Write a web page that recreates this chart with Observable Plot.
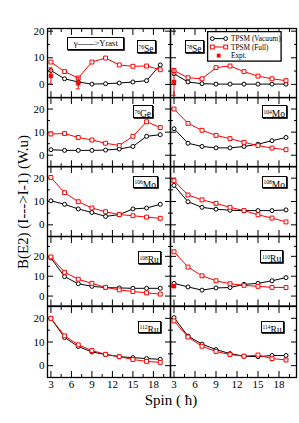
<!DOCTYPE html>
<html><head><meta charset="utf-8">
<script src="https://cdn.jsdelivr.net/npm/d3@7"></script>
<script src="https://cdn.jsdelivr.net/npm/@observablehq/plot@0.6"></script>
<style>
body{margin:0;background:#fff;}
#fig{position:relative;width:299px;height:423px;background:#fff;overflow:hidden;font-family:"Liberation Serif","DejaVu Serif",serif;color:#000}
.nuc{position:absolute;border:1.1px solid #000;background:#fff;box-sizing:border-box;white-space:nowrap;box-shadow:0.8px 0.8px 0 #000}
.nuc .m{font-size:5.5px;position:relative;top:-3.5px}
.nuc .e{font-size:9.5px}
</style></head><body><div id="fig"></div>
<script>
// ---- data ----
const spins = [3, 5, 7, 9, 11, 13, 15, 17, 19];
const xMajor = [3, 6, 9, 12, 15, 18];
const xMinor = [4.5, 7.5, 10.5, 13.5, 16.5, 19.5];

const vac_76Se  = [5.2, 2.1, 0.9, 0.1, 0.25, 0.5, 0.9, 1.4, 7.3];
const full_76Se = [8.4, 4.8, 2.4, 8.4, 9.9, 7.3, 6.8, 6.9, 5.5];
const vac_78Se  = [4.0, 0.9, 0.25, 0.1, 0.1, 0.1, 0.1, 0.1, 0.1];
const full_78Se = [5.2, 2.5, 2.1, 6.3, 6.9, 4.8, 3.1, 2.1, 1.4];
const vac_76Ge  = [2.4, 2.1, 2.1, 2.1, 2.25, 2.7, 3.8, 8.2, 8.9];
const full_76Ge = [9.2, 9.4, 7.7, 6.6, 5.2, 4.2, 8.2, 14.5, 12.0];
const vac_104Mo  = [11.5, 5.2, 3.8, 3.2, 3.2, 3.8, 4.8, 6.3, 7.7];
const full_104Mo = [20.0, 13.8, 10.8, 8.6, 7.2, 5.6, 4.2, 3.1, 2.4];
const vac_106Mo  = [10.3, 8.8, 6.8, 5.3, 3.6, 4.4, 6.8, 7.2, 8.8];
const full_106Mo = [20.3, 13.8, 9.9, 7.2, 5.6, 4.4, 3.9, 3.3, 2.8];
const vac_108Mo  = [16.9, 9.9, 7.5, 6.7, 6.25, 6.1, 6.1, 6.1, 6.4];
const full_108Mo = [18.9, 12.8, 10.7, 9.2, 7.5, 6.1, 4.3, 2.9, 1.25];
const vac_108Ru  = [19.2, 9.8, 6.2, 4.9, 4.3, 4.1, 3.9, 3.9, 3.9];
const full_108Ru = [19.7, 12.0, 8.5, 6.4, 4.4, 3.1, 2.3, 1.6, 1.0];
const vac_110Ru  = [6.4, 4.6, 3.0, 4.1, 4.3, 5.9, 6.4, 7.7, 9.3];
const full_110Ru = [22.3, 14.6, 10.2, 7.7, 6.2, 5.4, 4.9, 4.4, 4.3];
const vac_112Ru  = [20.0, 11.9, 8.1, 5.8, 4.7, 3.8, 3.4, 3.0, 2.7];
const full_112Ru = [20.0, 12.6, 8.8, 6.4, 4.8, 3.8, 2.6, 1.8, 1.4];
const vac_114Ru  = [20.3, 12.5, 9.1, 6.8, 5.1, 4.0, 3.8, 4.3, 4.3];
const full_114Ru = [18.9, 12.1, 8.2, 6.0, 4.7, 4.0, 4.5, 3.0, 2.4];

const exptSpin_76Se = [3, 7];
const exptVal_76Se  = [3.2, 0.4];
const exptErr_76Se  = [3.0, 2.1];
const exptSpin_78Se = [3];
const exptVal_78Se  = [0.9];
const exptErr_78Se  = [5.0];
const exptSpin_110Ru = [3];
const exptVal_110Ru  = [5.0];
const exptErr_110Ru  = [0.6];

const rowYDomains = [[-5, 21], [-5, 25], [-5, 25], [-5, 30], [-5, 25]];

// ---- layout ----
const colX = [46.5, 169.5, 295.5];
const rowY = [27.5, 96.7, 166, 236, 305.5, 376.5];
const RED = "#ff0000";

const panels = [
  {mass: "76", el: "Se", vac: vac_76Se, full: full_76Se, ex: [exptSpin_76Se, exptVal_76Se, exptErr_76Se], lx: 90, ly: 12.5},
  {mass: "78", el: "Se", vac: vac_78Se, full: full_78Se, ex: [exptSpin_78Se, exptVal_78Se, exptErr_78Se], lx: 15, ly: 12.5},
  {mass: "76", el: "Ge", vac: vac_76Ge, full: full_76Ge, lx: 86, ly: 8.3},
  {mass: "104", el: "Mo", vac: vac_104Mo, full: full_104Mo, lx: 92, ly: 8.3},
  {mass: "106", el: "Mo", vac: vac_106Mo, full: full_106Mo, lx: 86, ly: 9.7},
  {mass: "108", el: "Mo", vac: vac_108Mo, full: full_108Mo, lx: 92, ly: 9.7},
  {mass: "108", el: "Ru", vac: vac_108Ru, full: full_108Ru, lx: 91, ly: 15.3},
  {mass: "110", el: "Ru", vac: vac_110Ru, full: full_110Ru, ex: [exptSpin_110Ru, exptVal_110Ru, exptErr_110Ru], lx: 90.5, ly: 14},
  {mass: "112", el: "Ru", vac: vac_112Ru, full: full_112Ru, lx: 91, ly: 15},
  {mass: "114", el: "Ru", vac: vac_114Ru, full: full_114Ru, lx: 91, ly: 15}
];

const fig = document.getElementById("fig");

panels.forEach((p, i) => {
  const row = Math.floor(i / 2), col = i % 2;
  const x0 = colX[col], W = colX[col + 1] - colX[col];
  const y0 = rowY[row], H = rowY[row + 1] - rowY[row];
  const yd = rowYDomains[row];
  const yMajor = [0, 10, 20, 30].filter(v => v > yd[0] && v < yd[1]);
  const yMinor = [5, 15, 25].filter(v => v > yd[0] && v < yd[1]);
  const marks = [];
  for (const a of ["top", "bottom"]) {
    marks.push(Plot.axisX(xMajor, {anchor: a, tickSize: -6, tickFormat: () => "", label: null, strokeWidth: 1}));
    marks.push(Plot.axisX(xMinor, {anchor: a, tickSize: -3, tickFormat: () => "", label: null, strokeWidth: 1}));
  }
  for (const a of ["left", "right"]) {
    marks.push(Plot.axisY(yMajor, {anchor: a, tickSize: -6, tickFormat: () => "", label: null, strokeWidth: 1}));
    marks.push(Plot.axisY(yMinor, {anchor: a, tickSize: -3, tickFormat: () => "", label: null, strokeWidth: 1}));
  }
  if (col === 0) marks.push(Plot.axisY([0, 10, 20], {anchor: "left", tickSize: 0, tickPadding: 3, label: null, fontSize: 11}));
  if (row === 4) marks.push(Plot.axisX(xMajor, {anchor: "bottom", tickSize: 0, tickPadding: 3, label: null, fontSize: 11}));
  marks.push(
    Plot.line(spins, {x: d => d, y: p.vac, stroke: "black", strokeWidth: 1}),
    Plot.line(spins, {x: d => d, y: p.full, stroke: RED, strokeWidth: 1}),
    Plot.dot(spins, {x: d => d, y: p.vac, r: 2, stroke: "black", fill: "white", strokeWidth: 1}),
    Plot.dot(spins, {x: d => d, y: p.full, r: 2.2, symbol: "square", stroke: RED, fill: "white", strokeWidth: 1})
  );
  if (p.ex) {
    const [es, ev, ee] = p.ex;
    const ed = es.map((s, k) => ({spin: s, v: ev[k], e: ee[k]}));
    marks.push(
      Plot.ruleX(ed, {x: "spin", y1: d => d.v - d.e, y2: d => d.v + d.e, stroke: RED, strokeWidth: 1}),
      Plot.ruleY(ed, {y: d => d.v + d.e, x1: d => d.spin - 0.3, x2: d => d.spin + 0.3, stroke: RED, strokeWidth: 1}),
      Plot.ruleY(ed, {y: d => d.v - d.e, x1: d => d.spin - 0.3, x2: d => d.spin + 0.3, stroke: RED, strokeWidth: 1}),
      Plot.dot(ed, {x: "spin", y: "v", r: 2.2, symbol: "square", fill: RED, stroke: RED, strokeWidth: 0.5})
    );
  }
  marks.push(Plot.frame({stroke: "black", strokeWidth: 1.3}));
  const svg = Plot.plot({
    width: W, height: H,
    marginLeft: 0, marginRight: 0, marginTop: 0, marginBottom: 0,
    x: {domain: [2.5, 20.5]},
    y: {domain: yd},
    style: {background: "none", overflow: "visible", color: "black", fontFamily: "'Liberation Serif', serif", fontSize: "11px", maxWidth: "none"},
    marks
  });
  svg.style.position = "absolute";
  svg.style.left = x0 + "px";
  svg.style.top = y0 + "px";
  svg.style.overflow = "visible";
  fig.appendChild(svg);

  const box = document.createElement("div");
  box.className = "nuc";
  box.style.left = (x0 + p.lx) + "px";
  box.style.top = (y0 + p.ly) + "px";
  box.style.height = "12.5px";
  box.style.lineHeight = "11px";
  box.style.padding = "0 1px";
  box.innerHTML = `<span class="m">${p.mass}</span><span class="e">${p.el}</span>`;
  fig.appendChild(box);
});

// gamma -> yrast box
const g = document.createElement("div");
g.className = "nuc";
g.style.cssText += "left:67.3px;top:37px;width:57px;height:13px;font-size:8.5px;line-height:11px;text-align:center;";
g.textContent = "γ——>Yrast";
fig.appendChild(g);

// legend
const ns = "http://www.w3.org/2000/svg";
const leg = document.createElementNS(ns, "svg");
leg.setAttribute("width", 75); leg.setAttribute("height", 31);
leg.style.cssText = "position:absolute;left:207px;top:30.5px;overflow:visible";
leg.innerHTML = `
<rect x="0.6" y="0.6" width="73.5" height="29.5" fill="white" stroke="black" stroke-width="1.3"/>
<line x1="5.3" x2="18.7" y1="7.6" y2="7.6" stroke="black"/>
<circle cx="5.3" cy="7.6" r="1.9" fill="white" stroke="black"/>
<circle cx="18.7" cy="7.6" r="1.9" fill="white" stroke="black"/>
<line x1="5.3" x2="18.7" y1="16" y2="16" stroke="${RED}"/>
<rect x="3.4" y="14.1" width="3.8" height="3.8" fill="white" stroke="${RED}"/>
<rect x="16.8" y="14.1" width="3.8" height="3.8" fill="white" stroke="${RED}"/>
<rect x="9.8" y="22.7" width="3.8" height="3.8" fill="${RED}"/>
<g font-family="'Liberation Serif', serif" font-size="7.3px" fill="black">
<text x="24" y="10.2">TPSM (Vacuum)</text>
<text x="24" y="18.6">TPSM (Full)</text>
<text x="24" y="27.2">Expt.</text>
</g>`;
fig.appendChild(leg);

// axis titles
const yl = document.createElement("div");
yl.textContent = "B(E2) (I--->I-1) (W.u)";
yl.style.cssText = "position:absolute;left:23px;top:202px;font-size:15px;white-space:nowrap;transform:translate(-50%,-50%) rotate(-90deg);";
fig.appendChild(yl);
const xl = document.createElement("div");
xl.textContent = "Spin ( ħ)";
xl.style.cssText = "position:absolute;left:171px;top:400px;font-size:15px;white-space:nowrap;transform:translate(-50%,-50%);";
fig.appendChild(xl);
</script></body></html>
